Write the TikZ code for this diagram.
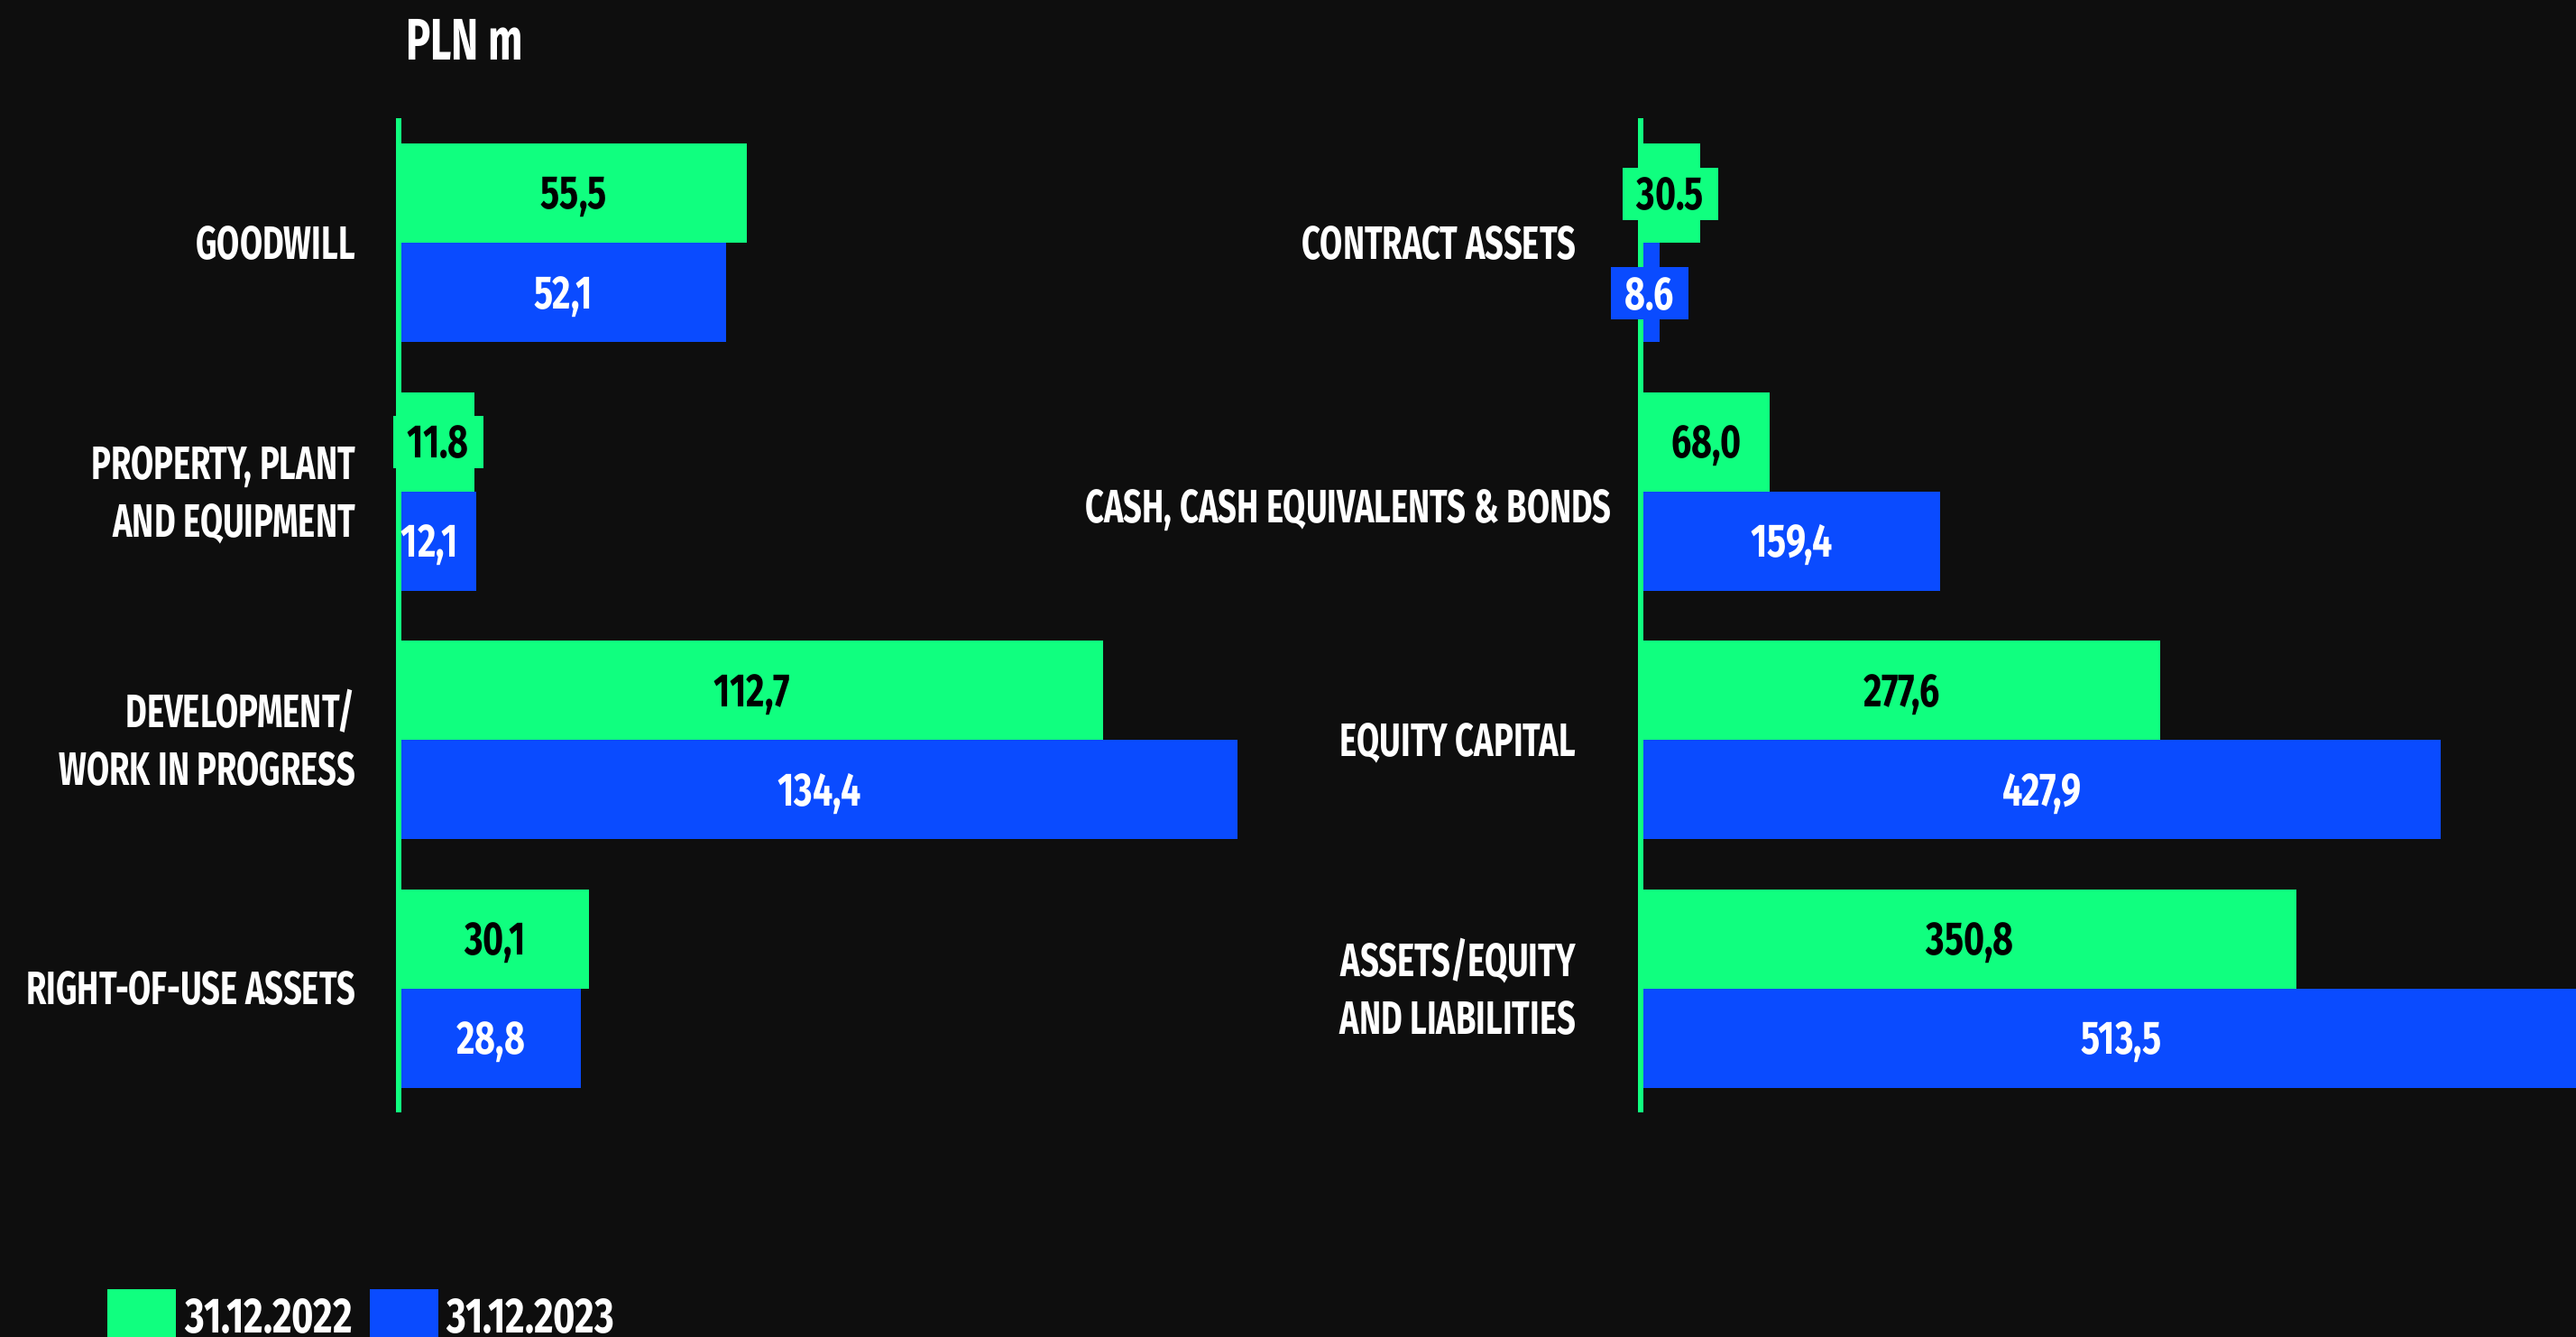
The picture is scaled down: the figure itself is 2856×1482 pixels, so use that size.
\documentclass[tikz,border=0pt]{standalone}
\usepackage{fontspec}
\setmainfont{Fira Sans}[FakeStretch=0.70]
\newfontfamily\numfont{Fira Sans}[FakeStretch=0.76]
\definecolor{bg}{HTML}{0E0E0E}
\definecolor{gr}{HTML}{10FF7F}
\definecolor{bl}{HTML}{0A4BFF}

% left panel: bars start at x=445, 6.9 px per PLN m
% right panel: bars start at x=1822, 2.065 px per PLN m
\newcommand\lbar[3]{\fill[#3] (439,#1) rectangle ({445+#2*6.9},{#1+110});}
\newcommand\rbar[3]{\fill[#3] (1816,#1) rectangle ({1822+#2*2.065},{#1+110});}

\begin{document}
\begin{tikzpicture}[x=1pt,y=-1pt,
  txt/.style={font=\fontsize{52}{63}\selectfont\bfseries, inner sep=0pt},
  cat/.style={txt, text=white, anchor=base east},
  val/.style={font=\numfont\fontsize{52}{63}\selectfont\bfseries, inner xsep=16pt, inner ysep=11pt,
              text height=36pt, text depth=0pt, anchor=center},
  gval/.style={val, text=black},
  bval/.style={val, text=white},
  gbox/.style={gval, fill=gr},
  bbox/.style={bval, fill=bl},
  axis/.style={draw=gr, line width=6pt},
  legtxt/.style={font=\numfont\fontsize{55}{63}\selectfont\bfseries, text=white, inner sep=0pt, anchor=base west},
]
\fill[bg] (0,0) rectangle (2856,1482);
\useasboundingbox (0,0) rectangle (2856,1482);

% unit title
\node[font=\fontsize{65}{70}\selectfont\bfseries, text=white, inner sep=0pt, anchor=base west] (unit) at (450,67) {PLN m};

% ---- left panel bars ----
\lbar{159}{55.5}{gr}   \lbar{269}{52.1}{bl}
\lbar{434.5}{11.8}{gr} \lbar{544.5}{12.1}{bl}
\lbar{710}{112.7}{gr}  \lbar{820}{134.4}{bl}
\lbar{985.5}{30.1}{gr} \lbar{1095.5}{28.8}{bl}

% ---- right panel bars ----
\rbar{159}{30.5}{gr}   \rbar{269}{8.6}{bl}
\rbar{434.5}{68.0}{gr} \rbar{544.5}{159.4}{bl}
\rbar{710}{277.6}{gr}  \rbar{820}{427.9}{bl}
\rbar{985.5}{350.8}{gr}\rbar{1095.5}{513.5}{bl}

% axes
\coordinate (la0) at (442,131);  \coordinate (la1) at (442,1233);
\coordinate (ra0) at (1819,131); \coordinate (ra1) at (1819,1233);
\draw[axis] (la0) -- (la1);
\draw[axis] (ra0) -- (ra1);

% ---- category labels ----
\node[cat] (gw)   at (394,287.5)  {GOODWILL};
\node[cat] (ppe1) at (394,531)    {PROPERTY, PLANT};
\node[cat] (ppe2) at (394,595)    {AND EQUIPMENT};
\node[cat] (dev1) at (394,806.5)  {DEVELOPMENT/};
\node[cat] (dev2) at (394,870.5)  {WORK IN PROGRESS};
\node[cat] (rou)  at (394,1113.5) {RIGHT-OF-USE ASSETS};

\node[cat] (ca)   at (1747,287.5) {CONTRACT ASSETS};
\node[cat] (cash) at (1787,579)   {CASH, CASH EQUIVALENTS \& BONDS};
\node[cat] (eq)   at (1747,838)   {EQUITY CAPITAL};
\node[cat] (ael1) at (1747,1082)  {ASSETS/EQUITY};
\node[cat] (ael2) at (1747,1146)  {AND LIABILITIES};

% ---- value labels, left ----
\node[gval] (v1) at ({445+55.5*3.45},214)    {55,5};
\node[bval] (v2) at ({445+52.1*3.45},324)    {52,1};
\node[gbox] (v3) at ({445+11.8*3.45},489.5)  {11.8};
\node[bval] (v4) at (476,599.5)              {12,1};
\node[gval] (v5) at ({445+112.7*3.45},765)   {112,7};
\node[bval] (v6) at ({445+134.4*3.45},875)   {134,4};
\node[gval] (v7) at ({445+30.1*3.45},1040.5) {30,1};
\node[bval] (v8) at ({445+28.8*3.45},1150.5) {28,8};

% ---- value labels, right ----
\node[gbox] (w1) at (1852,215)                 {30.5};
\node[bbox] (w2) at (1829,325)                 {8.6};
\node[gval] (w3) at ({1822+68.0*1.0325},489.5)  {68,0};
\node[bval] (w4) at ({1822+159.4*1.0325},599.5) {159,4};
\node[gval] (w5) at ({1822+277.6*1.0325},765)   {277,6};
\node[bval] (w6) at ({1822+427.9*1.0325},875)   {427,9};
\node[gval] (w7) at ({1822+350.8*1.0325},1040.5){350,8};
\node[bval] (w8) at ({1822+513.5*1.0325},1150.5){513,5};

% ---- legend ----
\fill[gr] (119,1429) rectangle (195,1490);
\fill[bl] (410,1429) rectangle (486,1490);
\node[legtxt] (l1) at (205,1477) {31.12.2022};
\node[legtxt] (l2) at (495,1477) {31.12.2023};
\end{tikzpicture}
\end{document}
